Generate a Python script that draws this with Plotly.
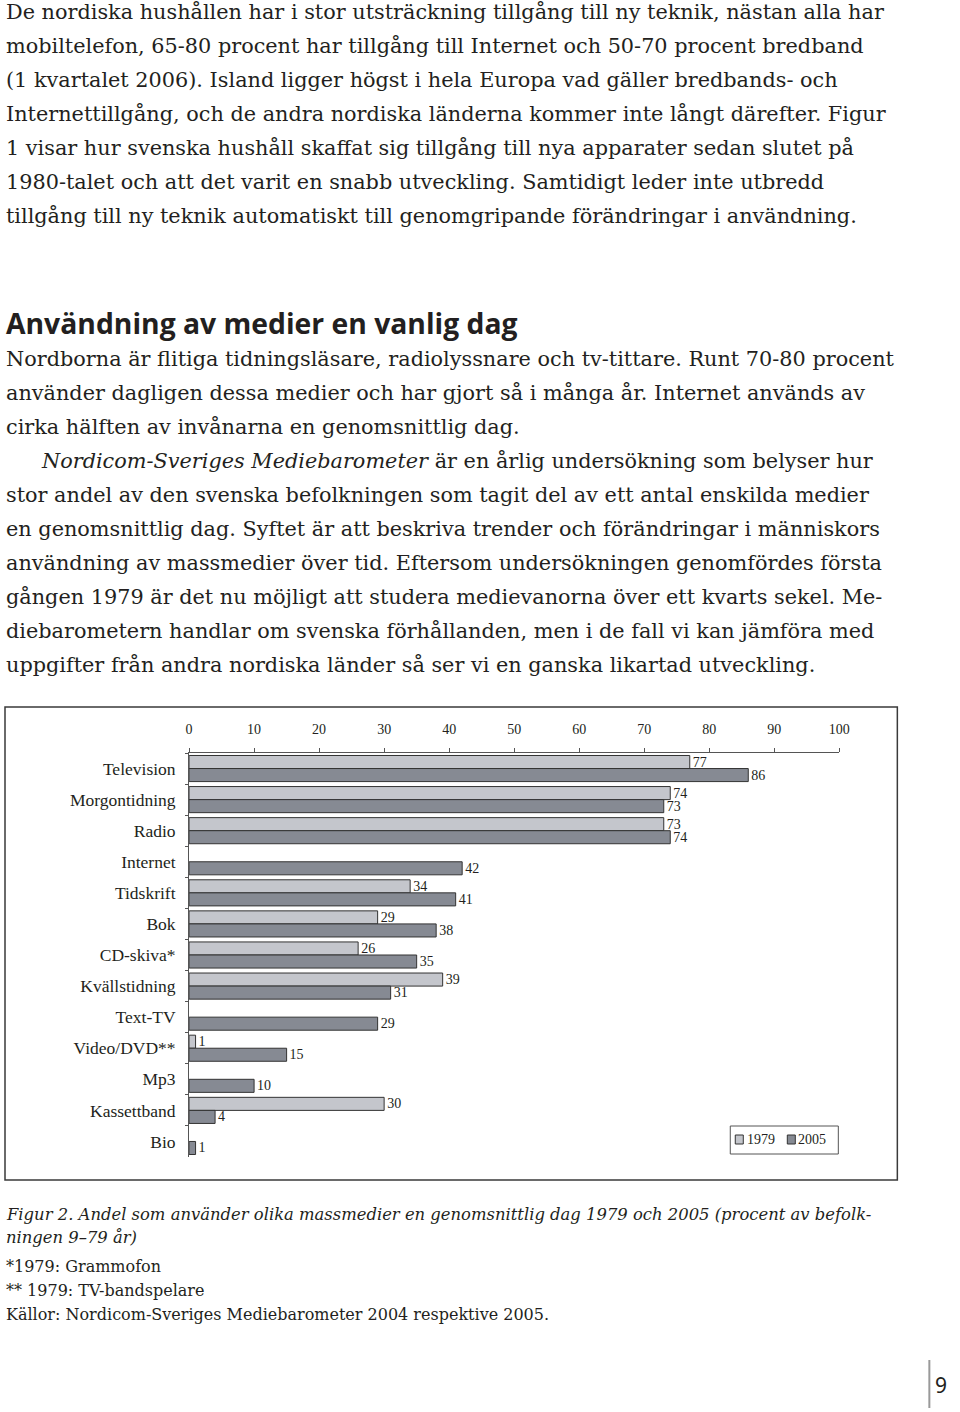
import plotly.graph_objects as go

W, H = 960, 1412

categories = ["Television", "Morgontidning", "Radio", "Internet", "Tidskrift", "Bok",
              "CD-skiva*", "Kvällstidning", "Text-TV", "Video/DVD**", "Mp3",
              "Kassettband", "Bio"]
values_1979 = [77, 74, 73, None, 34, 29, 26, 39, None, 1, None, 30, None]
values_2005 = [86, 73, 74, 42, 41, 38, 35, 31, 29, 15, 10, 4, 1]
series_names = ["1979", "2005"]
x_ticks = [0, 10, 20, 30, 40, 50, 60, 70, 80, 90, 100]

body_top = [
    "De nordiska hushållen har i stor utsträckning tillgång till ny teknik, nästan alla har",
    "mobiltelefon, 65-80 procent har tillgång till Internet och 50-70 procent bredband",
    "(1 kvartalet 2006). Island ligger högst i hela Europa vad gäller bredbands- och",
    "Internettillgång, och de andra nordiska länderna kommer inte långt därefter. Figur",
    "1 visar hur svenska hushåll skaffat sig tillgång till nya apparater sedan slutet på",
    "1980-talet och att det varit en snabb utveckling. Samtidigt leder inte utbredd",
    "tillgång till ny teknik automatiskt till genomgripande förändringar i användning.",
]
heading = "Användning av medier en vanlig dag"
body_mid = [
    "Nordborna är flitiga tidningsläsare, radiolyssnare och tv-tittare. Runt 70-80 procent",
    "använder dagligen dessa medier och har gjort så i många år. Internet används av",
    "cirka hälften av invånarna en genomsnittlig dag.",
]
body_low = [
    "<i>Nordicom-Sveriges Mediebarometer</i> är en årlig undersökning som belyser hur",
    "stor andel av den svenska befolkningen som tagit del av ett antal enskilda medier",
    "en genomsnittlig dag. Syftet är att beskriva trender och förändringar i människors",
    "användning av massmedier över tid. Eftersom undersökningen genomfördes första",
    "gången 1979 är det nu möjligt att studera medievanorna över ett kvarts sekel. Me-",
    "diebarometern handlar om svenska förhållanden, men i de fall vi kan jämföra med",
    "uppgifter från andra nordiska länder så ser vi en ganska likartad utveckling.",
]
caption = [
    "<i>Figur 2. Andel som använder olika massmedier en genomsnittlig dag 1979 och 2005 (procent av befolk-</i>",
    "<i>ningen 9–79 år)</i>",
]
notes = [
    "*1979: Grammofon",
    "** 1979: TV-bandspelare",
    "Källor: Nordicom-Sveriges Mediebarometer 2004 respektive 2005.",
]

TXT = "#231f20"
SERIF = "Liberation Serif"
BODY = "DejaVu Serif"
LIGHT = "#c4c6cc"
DARK = "#868a93"
EDGE = "#333333"


def px(x):
    # page x (pixels) -> paper fraction, compensating the observed horizontal mapping
    return max(0.0, min(1.0, (x - 4) / 0.984 / W))


def py(y):
    return 1 - y / H


fig = go.Figure()
for name, vals, col in [(series_names[0], values_1979, LIGHT), (series_names[1], values_2005, DARK)]:
    fig.add_trace(go.Bar(
        y=categories, x=vals, orientation="h", name=name,
        marker=dict(color=col, line=dict(color=EDGE, width=1)),
        texttemplate="%{x}", textposition="outside", constraintext="none",
        textfont=dict(family=SERIF, size=14, color=TXT),
        cliponaxis=False, showlegend=False,
    ))

fig.update_layout(
    width=W, height=H, autosize=False, margin=dict(l=0, r=0, t=0, b=0),
    paper_bgcolor="white", plot_bgcolor="rgba(0,0,0,0)",
    barmode="group", bargap=0.16, bargroupgap=0,
    xaxis=dict(domain=[px(189), px(839)], range=[0, 100], side="top",
               tickvals=x_ticks, ticks="outside", ticklen=4, tickcolor="#555",
               showline=True, linecolor="#555", linewidth=1, showgrid=False,
               zeroline=False, ticklabelstandoff=8,
               tickfont=dict(family=SERIF, size=14, color=TXT)),
    yaxis=dict(domain=[py(1157), py(753)], autorange="reversed",
               tickson="boundaries", ticks="outside", ticklen=3, tickcolor="#555",
               showline=True, linecolor="#555", linewidth=1, showgrid=False,
               ticklabelstandoff=9,
               tickfont=dict(family=SERIF, size=17.5, color=TXT)),
)

ann = []


def add_text(text, x, y, size, family=BODY, xanchor="left", color=TXT):
    ann.append(dict(text=text, x=px(x), y=py(y), xref="paper", yref="paper",
                    xanchor=xanchor, yanchor="middle", showarrow=False,
                    font=dict(family=family, size=size, color=color)))


for i, line in enumerate(body_top):
    add_text(line, 4, 12 + 34 * i, 20.8)
add_text("<b>" + heading + "</b>", 4, 323, 28.3, family="Open Sans")
for i, line in enumerate(body_mid):
    add_text(line, 4, 359 + 34 * i, 20.8)
for i, line in enumerate(body_low):
    add_text(line, 39 if i == 0 else 4, 461 + 34 * i, 20.8)
add_text(caption[0], 4, 1214, 16.4)
add_text(caption[1], 4, 1237, 16.4)
for i, line in enumerate(notes):
    add_text(line, 4, 1266 + 24 * i, 16)
add_text("9", 965, 1385, 21, family="Noto Sans", xanchor="right")

# legend (manual)
add_text(series_names[0], 745, 1139, 14, family=SERIF)
add_text(series_names[1], 796, 1139, 14, family=SERIF)

fig.update_layout(annotations=ann)

shapes = [
    dict(type="rect", xref="paper", yref="paper", x0=px(5), x1=px(897), y0=py(707), y1=py(1180),
         line=dict(color="#3a3a3a", width=1.5)),
    dict(type="rect", xref="paper", yref="paper", x0=px(730), x1=px(838), y0=py(1126), y1=py(1154),
         line=dict(color="#555", width=1)),
    dict(type="rect", xref="paper", yref="paper", x0=px(735), x1=px(743), y0=py(1135), y1=py(1144),
         fillcolor=LIGHT, line=dict(color=EDGE, width=1)),
    dict(type="rect", xref="paper", yref="paper", x0=px(787), x1=px(795), y0=py(1135), y1=py(1144),
         fillcolor=DARK, line=dict(color=EDGE, width=1)),
    dict(type="line", xref="paper", yref="paper", x0=px(929), x1=px(929), y0=py(1360), y1=py(1408),
         line=dict(color="#999", width=2)),
]
fig.update_layout(shapes=shapes)

fig.write_html(
    "out.html",
    config={"responsive": False, "displayModeBar": False},
    post_script=(
        "document.documentElement.style.overflow='hidden';"
        "document.body.style.margin='0';"
        "document.body.style.overflow='hidden';"
    ),
)
